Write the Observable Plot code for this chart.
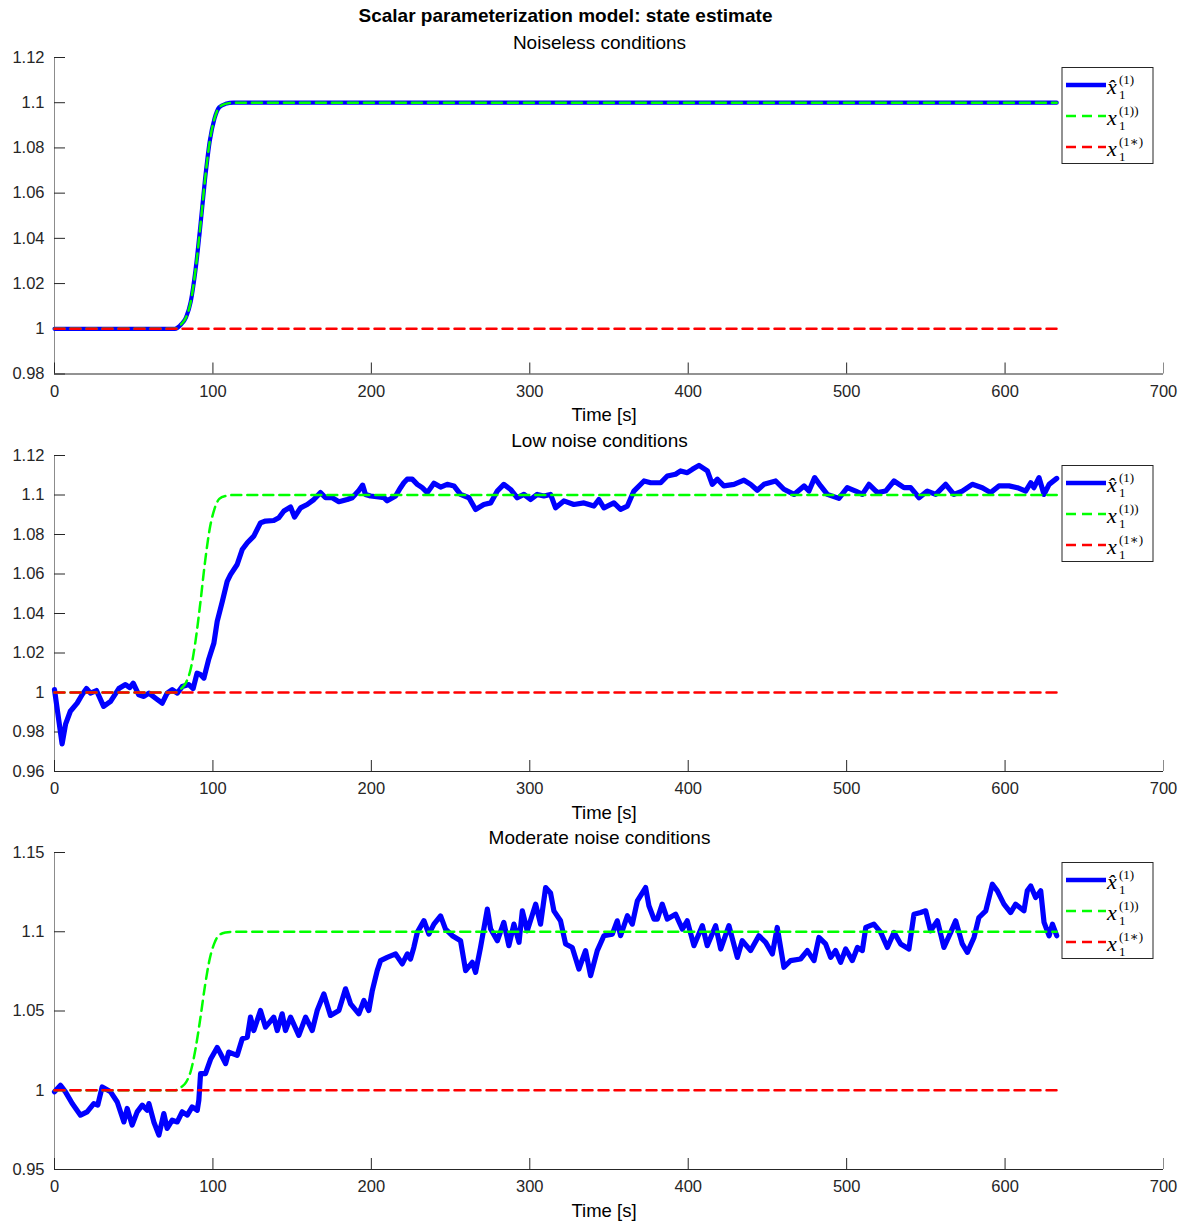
<!DOCTYPE html>
<html>
<head>
<meta charset="utf-8">
<script src="https://cdn.jsdelivr.net/npm/d3@7"></script>
<script src="https://cdn.jsdelivr.net/npm/@observablehq/plot@0.6"></script>
<style>
  body { margin: 0; background: #fff; }
  #fig { position: relative; width: 1183px; height: 1224px; font-family: "Liberation Sans", Arial, Helvetica, sans-serif; }
  .lbl { position: absolute; white-space: nowrap; transform: translate(-50%, -50%); line-height: 1; color: #000; }
  .pane { position: absolute; left: 0; }
  .legend { position: absolute; overflow: visible; }
</style>
</head>
<body>
<div id="fig"></div>
<script>
// Reference trajectory x1^(1)) (smooth step from 1.0 to 1.1)
const refT = [0, 76, 80, 83, 86, 89, 92, 95, 98, 101, 104, 108, 113, 632.6];
const refV = [1, 1, 1.002, 1.005, 1.012, 1.026, 1.045, 1.066, 1.083, 1.093, 1.098, 1.0995, 1.1, 1.1];

// Initial state x1^(1*)
const initT = [0, 632.6];
const initV = [1, 1];

// Noiseless estimate follows the reference exactly
const noiselessT = refT;
const noiselessV = refV;

// Low-noise estimate
const lowT = [0, 2, 4.8, 7, 10, 14.3, 17.5, 20.2, 22.7, 26.5, 31, 35.4, 40.6, 44.8, 47.5, 49.7, 53.2, 56.4, 59.6, 63.8,
  68, 71.1, 74.3, 77.5, 80.6, 84.8, 87.5, 90, 92.2, 94.3, 97.4, 100.6, 102.7, 105.9, 109, 111.1, 115.3, 118.5, 121.7, 125.8,
  130, 133.2, 138.4, 141.6, 144.8, 149, 151.5, 155.3, 159.5, 163.7, 167.9, 171.1, 175.3, 179.5, 184.8, 187.9, 192.1, 194.5, 196.3, 199.5,
  204.7, 208, 210, 215.3, 218.4, 220.5, 222.6, 225.8, 229, 232.1, 235.3, 239.5, 243.7, 247.9, 252.1, 256.3, 261.6, 265.8, 271, 275.3,
  279.5, 283.6, 287.9, 292.1, 296.3, 300.5, 304.7, 308.9, 313.1, 316.3, 321.5, 327.8, 334.2, 340.5, 343.6, 346.8, 353.1, 357.3, 361.6, 365.7,
  372.1, 376.3, 382.6, 386.8, 392, 395.2, 399.4, 402.6, 406.8, 412.1, 415.2, 418.4, 422.5, 428.9, 435.2, 439.4, 443.6, 447.8, 455.2, 460.4,
  466.8, 473.1, 476.2, 479.8, 483.6, 487.8, 495.1, 500.4, 505.7, 509.9, 514.1, 519.4, 524.6, 529.9, 536.2, 540.4, 545.7, 550.9, 556.2, 562.5,
  567.7, 573, 579.3, 585.6, 590.9, 596.1, 602.5, 607.8, 613, 616.2, 618.2, 621.4, 624.6, 627.8, 632.6];
const lowV = [1.0015, 0.99, 0.974, 0.984, 0.9905, 0.9946, 0.999, 1.002, 0.9997, 1.001, 0.993, 0.9955, 1.002, 1.004, 1.0025, 1.0047, 0.9988, 0.998, 0.9997, 0.9971,
  0.9946, 0.9997, 1.0014, 0.9997, 1.003, 1.004, 1.002, 1.0098, 1.009, 1.0073, 1.017, 1.025, 1.036, 1.046, 1.0563, 1.0597, 1.0648, 1.0724, 1.0758, 1.0792,
  1.0859, 1.0868, 1.0871, 1.0885, 1.0919, 1.0939, 1.0888, 1.0935, 1.0952, 1.0977, 1.1012, 1.0986, 1.0986, 1.0966, 1.0977, 1.0986, 1.1023, 1.105, 1.1003, 1.0995,
  1.099, 1.0986, 1.0971, 1.0995, 1.1037, 1.1062, 1.108, 1.108, 1.1054, 1.1037, 1.1012, 1.106, 1.104, 1.1054, 1.1046, 1.1003, 1.0986, 1.0927, 1.0952, 1.096,
  1.102, 1.1054, 1.1028, 1.0986, 1.1003, 1.0977, 1.1003, 1.0995, 1.1003, 1.0935, 1.097, 1.0952, 1.096, 1.0944, 1.0977, 1.0935, 1.096, 1.0927, 1.0944, 1.102,
  1.1071, 1.1062, 1.1062, 1.1096, 1.1105, 1.1122, 1.1113, 1.113, 1.115, 1.1122, 1.1054, 1.108, 1.1046, 1.1054, 1.1075, 1.1054, 1.1024, 1.1054, 1.1071, 1.1029,
  1.1003, 1.1046, 1.102, 1.1088, 1.1046, 1.1003, 1.0983, 1.1037, 1.102, 1.1003, 1.1054, 1.1012, 1.102, 1.1071, 1.1037, 1.1037, 1.0986, 1.102, 1.1003, 1.1054,
  1.1003, 1.102, 1.1054, 1.1037, 1.1012, 1.1046, 1.1046, 1.1037, 1.102, 1.1062, 1.1037, 1.1088, 1.1003, 1.1054, 1.1084];

// Moderate-noise estimate
const modT = [0, 3.8, 6.9, 11.2, 16.4, 20.6, 24.8, 27.3, 30.1, 35.4, 39.6, 43.8, 45.9, 49, 52.2, 55.4, 58.5, 59.6, 62.7, 65.9,
  69, 71.1, 74.3, 77.5, 80.6, 83.8, 86.9, 90.1, 91.1, 92.2, 95.3, 98.5, 102.7, 104.8, 108, 110, 115.3, 118.5, 121.7, 123.7,
  125.8, 130, 133.2, 138.4, 140.6, 143.7, 145.8, 149, 154.2, 158.5, 162.7, 165.8, 170, 174.2, 179.5, 183.7, 186.9, 192.1, 195.3, 198.4,
  200.6, 203.7, 205.8, 210, 215.3, 219.5, 222.7, 224.7, 226.8, 229, 233.2, 236.3, 239.5, 243.7, 246.8, 251.1, 256.3, 259.5, 263.7, 265.8,
  268.9, 273.2, 275.3, 279.5, 283.6, 286.8, 290, 293.2, 295.3, 298.4, 303.7, 306.8, 310, 313.1, 315.2, 319.4, 322.6, 326.8, 331, 335.2,
  338.4, 342.6, 346.8, 352.1, 355.2, 357.3, 361.6, 364.7, 367.9, 373.1, 375.2, 378.4, 380.5, 383.6, 386.8, 392, 396.3, 399.4, 403.6, 408.9,
  412, 417.3, 420.5, 425.7, 431, 434.1, 439.4, 444.6, 448.9, 453.1, 456.2, 460.4, 464.6, 470.9, 475.2, 479.4, 482.5, 486.7, 489.9, 493,
  496.2, 499.4, 503.6, 506.8, 509.9, 512.1, 517.2, 521.5, 525.7, 529.9, 534.1, 539.3, 542.5, 546.7, 549.9, 553, 557.3, 561.4, 565.7, 568.8,
  573, 576.2, 580.4, 583.5, 587.8, 592, 595.1, 599.3, 603.5, 606.7, 611.9, 614, 616.2, 619.3, 622.5, 624.6, 627.8, 629.9, 632.6];
const modV = [0.999, 1.0031, 0.999, 0.9916, 0.9843, 0.9864, 0.9916, 0.9906, 1.0021, 0.999, 0.9926, 0.98, 0.9885, 0.978, 0.9864, 0.9906, 0.9874, 0.9916, 0.98, 0.9717,
  0.9853, 0.9759, 0.9811, 0.98, 0.9864, 0.9843, 0.9895, 0.9874, 0.9937, 1.0105, 1.0105, 1.0195, 1.027, 1.0231, 1.0168, 1.0241, 1.022, 1.0325, 1.0335, 1.0461,
  1.0377, 1.0503, 1.0398, 1.0461, 1.0377, 1.0482, 1.0377, 1.0461, 1.0346, 1.0461, 1.0377, 1.0503, 1.0608, 1.0472, 1.0503, 1.064, 1.0545, 1.0482, 1.0566, 1.0503,
  1.0629, 1.0755, 1.0818, 1.0838, 1.086, 1.0797, 1.086, 1.0828, 1.0901, 1.0996, 1.107, 1.0985, 1.1048, 1.11, 1.1017, 1.0975, 1.0943, 1.0755, 1.0807, 1.0744,
  1.0901, 1.1143, 1.1017, 1.0943, 1.1059, 1.0912, 1.1048, 1.0933, 1.1132, 1.1006, 1.1174, 1.1048, 1.1279, 1.1245, 1.1132, 1.1069, 1.0923, 1.0901, 1.0765, 1.0881,
  1.0723, 1.0881, 1.0975, 1.0985, 1.1069, 1.0975, 1.1101, 1.1048, 1.1195, 1.1279, 1.1164, 1.108, 1.108, 1.1174, 1.108, 1.1111, 1.1017, 1.1069, 1.0912, 1.1038,
  1.0912, 1.1038, 1.0891, 1.1038, 1.0838, 1.0943, 1.0881, 1.0975, 1.0933, 1.086, 1.1027, 1.0776, 1.0818, 1.0828, 1.0881, 1.0818, 1.0964, 1.0923, 1.0838, 1.0881,
  1.0807, 1.0891, 1.0818, 1.0901, 1.0881, 1.1027, 1.1048, 1.0996, 1.0901, 1.0996, 1.0923, 1.0891, 1.1111, 1.1121, 1.1132, 1.1006, 1.1069, 1.0901, 1.0996, 1.1069,
  1.0923, 1.087, 1.0964, 1.109, 1.1132, 1.13, 1.1258, 1.1174, 1.1121, 1.1174, 1.1132, 1.1258, 1.1289, 1.1216, 1.1258, 1.1059, 1.0975, 1.1048, 1.0975];

// Axis ticks
const xTicks = [0, 100, 200, 300, 400, 500, 600, 700];
const yTicks1 = [0.98, 1, 1.02, 1.04, 1.06, 1.08, 1.1, 1.12];
const yTicks2 = [0.96, 0.98, 1, 1.02, 1.04, 1.06, 1.08, 1.1, 1.12];
const yTicks3 = [0.95, 1, 1.05, 1.1, 1.15];

const figTitle = "Scalar parameterization model: state estimate";
const paneTitles = ["Noiseless conditions", "Low noise conditions", "Moderate noise conditions"];
const xLabel = "Time [s]";

const zip = (t, v) => t.map((d, i) => ({t: d, v: v[i]}));

const panes = [
  {title: paneTitles[0], top: 57, bottom: 373.5, domain: [0.98, 1.12], ticks: yTicks1, est: zip(noiselessT, noiselessV), estCurve: "monotone-x", estWidth: 4.2},
  {title: paneTitles[1], top: 455, bottom: 771, domain: [0.96, 1.12], ticks: yTicks2, est: zip(lowT, lowV), estCurve: "linear", estWidth: 5.2},
  {title: paneTitles[2], top: 852, bottom: 1169, domain: [0.95, 1.15], ticks: yTicks3, est: zip(modT, modV), estCurve: "linear", estWidth: 5.2}
];

const ref = zip(refT, refV);
const init = zip(initT, initV);
const fmt = d => String(+d.toFixed(2));

const fig = document.getElementById("fig");
const W = 1183, ML = 54, MR = 20, TICK = 11;
const innerW = W - ML - MR;

function addLabel(text, cx, cy, size, weight) {
  const el = document.createElement("div");
  el.className = "lbl";
  el.textContent = text;
  el.style.left = cx + "px";
  el.style.top = cy + "px";
  el.style.fontSize = size + "px";
  el.style.fontWeight = weight || "normal";
  fig.appendChild(el);
  return el;
}

addLabel(figTitle, 565.5, 15, 19, "bold");

const legendEntries = [
  {color: "#0000ff", width: 4.5, dash: null, base: "x\u0302", sup: "(1)"},
  {color: "#00ff00", width: 2.5, dash: "10,6", base: "x", sup: "(1))"},
  {color: "#ff0000", width: 2.5, dash: "10,6", base: "x", sup: "(1\u2217)"}
];

// Legend box with LaTeX-style stacked sub/superscripts
function drawLegend(top) {
  const svg = d3.select(fig).append("svg")
    .attr("class", "legend")
    .attr("width", 93).attr("height", 98)
    .style("left", "1061px").style("top", top + "px");
  svg.append("rect").attr("x", 1).attr("y", 0.5).attr("width", 91).attr("height", 96)
    .attr("fill", "#fff").attr("stroke", "#262626").attr("stroke-width", 1);
  legendEntries.forEach((e, i) => {
    const c = 18 + 31 * i;
    svg.append("line").attr("x1", 5).attr("x2", 45).attr("y1", c).attr("y2", c)
      .attr("stroke", e.color).attr("stroke-width", e.width)
      .attr("stroke-dasharray", e.dash);
    const g = svg.append("g").attr("font-family", "'Liberation Serif', 'DejaVu Serif', serif").attr("fill", "#000");
    g.append("text").attr("x", 46).attr("y", c + 9).attr("font-style", "italic").attr("font-size", 22).text(e.base);
    g.append("text").attr("x", 58).attr("y", c + 14).attr("font-size", 13).text("1");
    g.append("text").attr("x", 58).attr("y", c - 1).attr("font-size", 13).text(e.sup);
  });
}

panes.forEach(p => {
  const mt = 10, mb = 60;
  const innerH = p.bottom - p.top;
  const chart = Plot.plot({
    width: W,
    height: innerH + mt + mb,
    marginLeft: ML, marginRight: MR, marginTop: mt, marginBottom: mb,
    style: {fontFamily: "'Liberation Sans', Arial, Helvetica, sans-serif", fontSize: "16.5px", color: "#262626", background: "transparent", overflow: "visible"},
    x: {domain: [0, 700]},
    y: {domain: p.domain},
    marks: [
      // axis lines: grey y axis, dark x axis
      Plot.ruleX([0], {stroke: "#8c8c8c", strokeWidth: 1}),
      Plot.ruleY([p.domain[0]], {stroke: "#262626", strokeWidth: 1}),
      // inward tick marks
      Plot.tickY(p.ticks, {y: d => d, insetRight: innerW - TICK, stroke: "#262626", strokeWidth: 1}),
      Plot.tickX(xTicks.slice(0, -1), {x: d => d, insetTop: innerH - TICK, stroke: "#262626", strokeWidth: 1}),
      Plot.tickX(xTicks.slice(-1), {x: d => d, insetTop: innerH - TICK, stroke: "#8c8c8c", strokeWidth: 1}),
      // tick labels
      Plot.axisY({ticks: p.ticks, tickSize: 0, tickPadding: 10, tickFormat: fmt, label: null}),
      Plot.axisX({ticks: xTicks, tickSize: 0, tickPadding: 11, tickFormat: fmt, label: null}),
      // series
      Plot.line(p.est, {x: "t", y: "v", stroke: "#0000ff", strokeWidth: p.estWidth, curve: p.estCurve, strokeLinejoin: "round"}),
      Plot.line(ref, {x: "t", y: "v", stroke: "#00ff00", strokeWidth: 2.5, strokeDasharray: "10,6", curve: "monotone-x"}),
      Plot.line(init, {x: "t", y: "v", stroke: "#ff0000", strokeWidth: 2.5, strokeDasharray: "10,6"})
    ]
  });
  chart.classList.add("pane");
  chart.style.top = (p.top - mt) + "px";
  fig.appendChild(chart);
  addLabel(p.title, 599.5, p.top - 15, 19);
  addLabel(xLabel, 604, p.bottom + 41.5, 18.5);
  drawLegend(p.top + 9.5);
});
</script>
</body>
</html>
